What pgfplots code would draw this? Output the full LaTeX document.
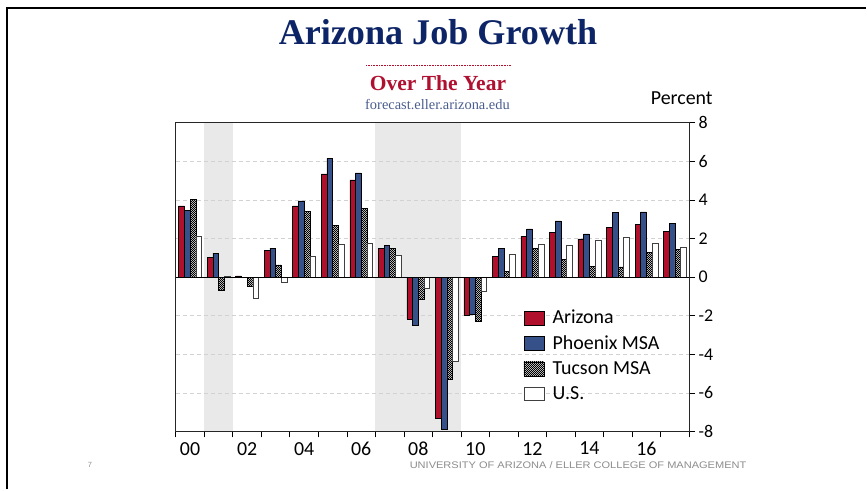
\documentclass[border=0pt]{standalone}
\usepackage{pgfplots}
\pgfplotsset{compat=1.18}
\usepackage{fontspec}
\setmainfont{Liberation Serif}
\newfontfamily\carlito{Carlito}
\newfontfamily\lsans{Liberation Sans}
\usetikzlibrary{patterns}
\definecolor{azred}{HTML}{B0102C}
\definecolor{phxblue}{HTML}{36508A}
\definecolor{navy}{HTML}{0D2566}
\definecolor{otyred}{HTML}{B01030}
\definecolor{urlblue}{HTML}{4A5D8E}
\definecolor{shadeg}{HTML}{E9E9E9}
\definecolor{footg}{HTML}{8C8C8C}
\pgfdeclarepatternformonly{finecheck}{\pgfpointorigin}{\pgfqpoint{2.2pt}{2.2pt}}{\pgfqpoint{2.2pt}{2.2pt}}{%
 \pgfpathrectangle{\pgfpointorigin}{\pgfqpoint{1.4pt}{1.4pt}}%
 \pgfpathrectangle{\pgfqpoint{1.1pt}{1.1pt}}{\pgfqpoint{1.4pt}{1.4pt}}%
 \pgfusepath{fill}}
\pgfplotsset{legimg/.style={legend image code/.code={\draw[##1] (0bp,-7bp) rectangle (20bp,7bp);}}}

\pgfplotstableread{
x az phx tuc us
0 3.69 3.48 4.03 2.14
1 1.01 1.25 -0.70 0.04
2 0.07 0.00 -0.49 -1.11
3 1.39 1.50 0.64 -0.26
4 3.70 3.95 3.43 1.08
5 5.36 6.17 2.70 1.70
6 5.04 5.41 3.55 1.76
7 1.51 1.65 1.48 1.13
8 -2.17 -2.50 -1.13 -0.56
9 -7.29 -7.86 -5.29 -4.35
10 -1.95 -1.90 -2.26 -0.73
11 1.08 1.51 0.31 1.18
12 2.12 2.50 1.51 1.70
13 2.33 2.92 0.92 1.65
14 1.98 2.24 0.56 1.90
15 2.57 3.34 0.54 2.07
16 2.73 3.39 1.29 1.77
17 2.37 2.77 1.46 1.57
}\jobdata

\begin{document}
\begin{tikzpicture}[x=1bp,y=1bp]
\path (0,0) rectangle (867,490);
\draw[line width=2bp] (7,0) -- (7,482.3) -- (867,482.3);

\node[anchor=base, text=navy, font=\fontsize{36.3}{36}\selectfont\bfseries] at (438.5,445) {Arizona Job Growth};
\draw[otyred, line width=0.6bp, dash pattern=on 0.8bp off 0.8bp] (366.7,424.3) -- (511.7,424.3);
\node[anchor=base, text=otyred, font=\fontsize{21.6}{21}\selectfont\bfseries] at (438.5,399.3) {Over The Year};
\node[anchor=base, text=urlblue, font=\fontsize{14.5}{14}\selectfont] at (438,380.7) {forecast.eller.arizona.edu};
\node[anchor=base, font=\carlito\fontsize{20}{20}\selectfont] at (682.5,385) {Percent};
\node[anchor=base, inner sep=0pt, text=footg, font=\lsans\fontsize{7.5}{7}\selectfont] at (90,22) {7};
\node[anchor=base west, inner sep=0pt, text=footg, font=\lsans\fontsize{9.6}{10}\selectfont, xscale=1.155] at (410,21) {UNIVERSITY OF ARIZONA / ELLER COLLEGE OF MANAGEMENT};

\begin{axis}[
 at={(176bp,58bp)}, anchor=south west,
 scale only axis, width=514bp, height=309bp,
 xmin=-0.5, xmax=17.5, ymin=-8, ymax=8,
 set layers,
 ybar, bar width=0.2,
 axis line style={black!85, line width=0.8bp},
 tick align=outside,
 xtick={-0.5,0.5,...,17.5}, xticklabels={},
 xtick pos=left,
 major tick length=6bp,
 tick style={black, line width=0.8bp},
 extra x ticks={0,2,...,16},
 extra x tick labels={00,02,04,06,08,10,12,14,16},
 extra x tick style={major tick length=0pt, tick style={draw=none}},
 xticklabel style={font=\carlito\fontsize{20}{20}\selectfont, inner sep=0pt, yshift=-10.5bp},
 ytick={-8,-6,...,8},
 yticklabels={-8,-6,-4,-2,0,2,4,6,8},
 ytick pos=right, yticklabel pos=right,
 yticklabel style={font=\carlito\fontsize{18}{18}\selectfont, xshift=0bp},
 ymajorgrids,
 major grid style={gray!35, line width=0.8bp, dash pattern=on 4bp off 3bp},
 legend style={at={(axis cs:11.69,-1.6)}, anchor=north west, draw=none, fill=none,
   font=\carlito\fontsize{20}{20}\selectfont, inner sep=0pt, row sep=6.5bp,
   nodes={inner xsep=8.5bp}},
 legend cell align=left,
]
\begin{pgfonlayer}{axis background}
\fill[shadeg] (axis cs:0.5,-8) rectangle (axis cs:1.5,8);
\fill[shadeg] (axis cs:6.5,-8) rectangle (axis cs:9.5,8);
\end{pgfonlayer}
\addplot[fill=azred, draw=black, line width=0.5bp, bar shift=-0.3, legimg] table[x=x,y=az] {\jobdata};
\addlegendentry{Arizona}
\addplot[fill=phxblue, draw=black, line width=0.5bp, bar shift=-0.1, legimg] table[x=x,y=phx] {\jobdata};
\addlegendentry{Phoenix MSA}
\addplot[fill=white, draw=black, line width=0.5bp, bar shift=0.1, postaction={pattern=finecheck}, legimg] table[x=x,y=tuc] {\jobdata};
\addlegendentry{Tucson MSA}
\addplot[fill=white, draw=black!75, line width=0.5bp, bar shift=0.3, legimg] table[x=x,y=us] {\jobdata};
\addlegendentry{U.S.}
\draw[black, line width=0.8bp] (axis cs:-0.5,0) -- (axis cs:17.5,0);
\end{axis}
\end{tikzpicture}
\end{document}
